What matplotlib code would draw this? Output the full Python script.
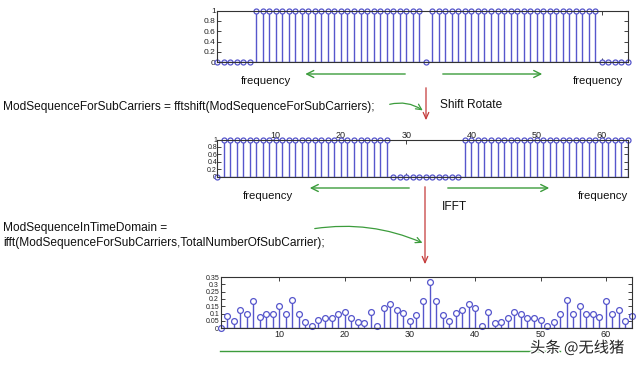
import matplotlib
matplotlib.use('Agg')
import matplotlib.pyplot as plt
import matplotlib.patheffects as pe

# subcarrier index (1-based, like matlab)
idx = list(range(1, 65))

# mapped subcarriers in natural order
freq_vals = [0, 0, 0, 0, 0, 0,
             1, 1, 1, 1, 1, 1, 1, 1, 1, 1, 1, 1, 1, 1, 1, 1, 1, 1, 1, 1, 1, 1, 1, 1, 1, 1,
             0,
             1, 1, 1, 1, 1, 1, 1, 1, 1, 1, 1, 1, 1, 1, 1, 1, 1, 1, 1, 1, 1, 1, 1, 1, 1, 1,
             0, 0, 0, 0, 0]

# after fftshift
shift_vals = [0,
              1, 1, 1, 1, 1, 1, 1, 1, 1, 1, 1, 1, 1, 1, 1, 1, 1, 1, 1, 1, 1, 1, 1, 1, 1, 1,
              0, 0, 0, 0, 0, 0, 0, 0, 0, 0, 0,
              1, 1, 1, 1, 1, 1, 1, 1, 1, 1, 1, 1, 1, 1, 1, 1, 1, 1, 1, 1, 1, 1, 1, 1, 1, 1]

# |ifft|
time_vals = [0.0, 0.087, 0.053, 0.127, 0.100, 0.187, 0.080, 0.100, 0.095, 0.155,
             0.100, 0.190, 0.095, 0.042, 0.013, 0.058, 0.069, 0.073, 0.098, 0.111,
             0.073, 0.042, 0.038, 0.113, 0.018, 0.140, 0.164, 0.127, 0.107, 0.049,
             0.093, 0.187, 0.313, 0.187, 0.093, 0.049, 0.107, 0.127, 0.164, 0.140,
             0.018, 0.113, 0.038, 0.042, 0.073, 0.111, 0.098, 0.073, 0.069, 0.058,
             0.013, 0.042, 0.095, 0.190, 0.100, 0.155, 0.095, 0.100, 0.080, 0.187,
             0.100, 0.127, 0.053, 0.087]

freq_yticks = [0, 0.2, 0.4, 0.6, 0.8, 1]
freq_yticklabels = ['0', '0.2', '0.4', '0.6', '0.8', '1']
time_yticks = [0, 0.05, 0.1, 0.15, 0.2, 0.25, 0.3, 0.35]
time_yticklabels = ['0', '0.05', '0.1', '0.15', '0.2', '0.25', '0.3', '0.35']
xticks = [10, 20, 30, 40, 50, 60]

STEM = '#5656cc'
GREEN = '#3c9c3c'
RED = '#c43a3a'
W, H = 640, 367

plt.rcParams['font.family'] = ['Liberation Sans', 'DejaVu Sans']

fig = plt.figure(figsize=(6.4, 3.67), dpi=100)
fig.patch.set_facecolor('white')

# overlay for text and arrows, in pixel coords
ov = fig.add_axes([0, 0, 1, 1])
ov.set_xlim(0, W)
ov.set_ylim(H, 0)
ov.axis('off')
ov.patch.set_visible(False)


def px_axes(l, t, r, b):
    return fig.add_axes([l / W, 1 - b / H, (r - l) / W, (b - t) / H])


def stem_panel(ax, y, ms):
    ml, sl, bl = ax.stem(idx, y, linefmt=STEM, markerfmt='o', basefmt=STEM)
    plt.setp(ml, markersize=ms, markerfacecolor='white', markeredgecolor=STEM, markeredgewidth=0.9)
    plt.setp(sl, linewidth=1.0)
    plt.setp(bl, linewidth=1.0)
    ml.set_clip_on(False)
    ax.set_xlim(1, 64)
    for s in ax.spines.values():
        s.set_color('#333333')
        s.set_linewidth(0.8)
    ax.tick_params(direction='in', length=3, width=0.6, labelsize=6.5, pad=1,
                   top=True, right=True, colors='#222222')
    ax.tick_params(axis='y', labelsize=5, pad=1)


# top panel
ax1 = px_axes(217, 10.5, 628, 62.3)
stem_panel(ax1, freq_vals, 3.6)
ax1.set_ylim(0, 1)
ax1.set_yticks(freq_yticks)
ax1.set_yticklabels(freq_yticklabels)
ax1.set_xticks(xticks)
ax1.tick_params(labelbottom=False)
ax1.tick_params(axis='y', labelsize=6)

# middle panel
ax2 = px_axes(217, 139.5, 628, 176.5)
stem_panel(ax2, shift_vals, 3.6)
ax2.set_ylim(0, 1)
ax2.set_yticks(freq_yticks)
ax2.set_yticklabels(freq_yticklabels)
ax2.set_xticks(xticks)
ax2.tick_params(labeltop=True, labelbottom=False, pad=0)

# bottom panel
ax3 = px_axes(220.5, 277, 632, 328.3)
stem_panel(ax3, time_vals, 4.2)
ax3.set_ylim(0, 0.35)
ax3.set_yticks(time_yticks)
ax3.set_yticklabels(time_yticklabels)
ax3.set_xticks(xticks)

txt = dict(fontsize=8.2, color='#111111', va='center')
code = dict(fontsize=8.6, color='#111111', va='center')

# frequency labels and green arrows
for y_lab, y_arr, left, right in [(81.5, 74, (408, 302.5, 241), (440, 545, 573)),
                                   (196, 188, (412, 307, 243), (445, 552, 578))]:
    ov.text(left[2], y_lab, 'frequency', ha='left', **txt)
    ov.text(right[2], y_lab, 'frequency', ha='left', **txt)
    ov.annotate('', xy=(left[1], y_arr), xytext=(left[0], y_arr),
                arrowprops=dict(arrowstyle='->,head_length=0.5,head_width=0.25', color=GREEN, lw=1.0))
    ov.annotate('', xy=(right[1], y_arr), xytext=(right[0], y_arr),
                arrowprops=dict(arrowstyle='->,head_length=0.5,head_width=0.25', color=GREEN, lw=1.0))

# red process arrows
ov.annotate('', xy=(426, 123), xytext=(426, 85),
            arrowprops=dict(arrowstyle='->,head_length=0.45,head_width=0.2', color=RED, lw=0.9))
ov.annotate('', xy=(425, 267), xytext=(425, 184),
            arrowprops=dict(arrowstyle='->,head_length=0.45,head_width=0.2', color=RED, lw=0.9))

ov.text(440, 105, 'Shift Rotate', ha='left', **code)
ov.text(442, 207.5, 'IFFT', ha='left', **code)

# code snippets
ov.text(3, 107, 'ModSequenceForSubCarriers = fftshift(ModSequenceForSubCarriers);', ha='left', **code)
ov.text(3, 228, 'ModSequenceInTimeDomain =', ha='left', **code)
ov.text(3, 243, 'ifft(ModSequenceForSubCarriers,TotalNumberOfSubCarrier);', ha='left', **code)

# green curved pointers
ov.annotate('', xy=(425, 112), xytext=(387, 105),
            arrowprops=dict(arrowstyle='->,head_length=0.4,head_width=0.2', color=GREEN, lw=0.9,
                            connectionstyle='arc3,rad=-0.25'))
ov.annotate('', xy=(425, 244), xytext=(312, 229),
            arrowprops=dict(arrowstyle='->,head_length=0.4,head_width=0.2', color=GREEN, lw=0.9,
                            connectionstyle='arc3,rad=-0.15'))

# green line under the time domain plot
ov.plot([220, 560], [351, 351], color=GREEN, lw=1.0)

# watermark
ov.text(530, 348, '头条 @无线猪', ha='left', va='center', fontsize=11, color='#222222',
        family=['Noto Sans CJK SC', 'DejaVu Sans'],
        path_effects=[pe.withStroke(linewidth=2, foreground='white')])

fig.savefig('out.png', dpi=100)
